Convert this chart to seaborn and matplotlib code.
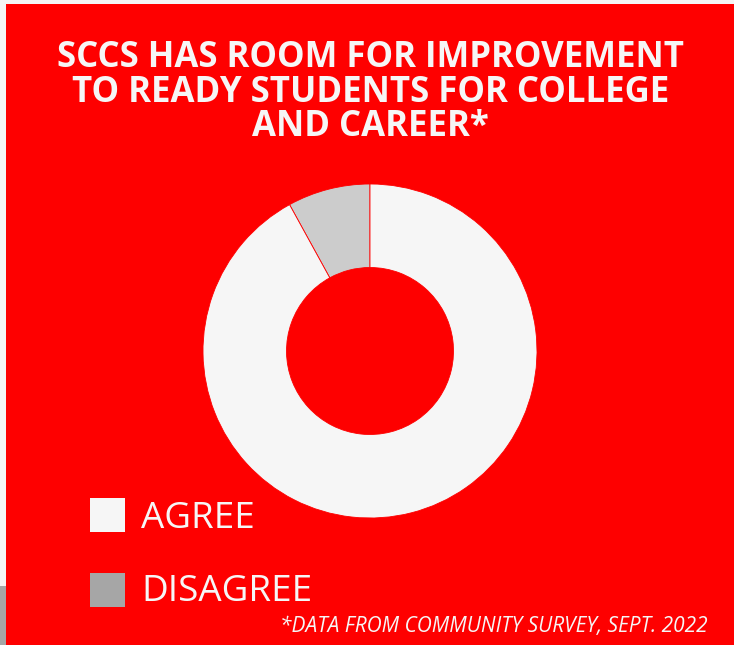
import matplotlib
matplotlib.use("Agg")
import matplotlib.pyplot as plt
from matplotlib.patches import Rectangle
import seaborn as sns

categories = ["AGREE", "DISAGREE"]
values = [92, 8]
wedge_colors = ["#f6f6f6", "#cccccc"]
legend_colors = ["#f6f6f6", "#a6a6a6"]
title_lines = ["SCCS HAS ROOM FOR IMPROVEMENT",
               "TO READY STUDENTS FOR COLLEGE",
               "AND CAREER*"]
footnote = "*DATA FROM COMMUNITY SURVEY, SEPT. 2022"

sns.set_theme(style="white")
plt.rcParams['font.family'] = ['Open Sans', 'DejaVu Sans']

W, H = 734, 645
RED = "#fe0000"
TXT = "#f6f6f6"
fig = plt.figure(figsize=(W / 100, H / 100), dpi=100, facecolor="#f5f5f5")

def fx(px):
    return px / W

def fy(py):
    return 1 - py / H

# background panels
fig.patches.append(Rectangle((fx(6), 0), 1 - fx(6), fy(4), transform=fig.transFigure,
                             facecolor=RED, edgecolor="none", zorder=-2))
fig.patches.append(Rectangle((0, 0), fx(6), fy(586), transform=fig.transFigure,
                             facecolor="#a6a6a6", edgecolor="none", zorder=-2))

# donut
cx, cy, r = 370, 351, 167
ax = fig.add_axes([fx(cx - r), fy(cy + r), 2 * r / W, 2 * r / H])
ax.set_facecolor("none")
# disagree first so it starts at 12 o'clock going counterclockwise
ax.pie(values[::-1], colors=wedge_colors[::-1], startangle=90, counterclock=True,
       radius=1, wedgeprops=dict(width=0.5, edgecolor=RED, linewidth=0.6))
ax.set_xlim(-1, 1)
ax.set_ylim(-1, 1)
ax.set_aspect("equal")
ax.axis("off")

# title
for line, by in zip(title_lines, [67, 101.5, 136]):
    fig.text(fx(370.5), fy(by), line, ha="center", va="baseline", color=TXT,
             fontsize=25, fontweight="bold")

# legend
for cat, col, top, base in zip(categories, legend_colors, [498, 573], [528, 601]):
    fig.patches.append(Rectangle((fx(90), fy(top + 34)), 35 / W, 34 / H,
                                 transform=fig.transFigure, facecolor=col,
                                 edgecolor="none", zorder=2))
    fig.text(fx(141), fy(base), cat, ha="left", va="baseline", color=TXT,
             fontsize=26.5, fontweight="normal")

# footnote
fig.text(fx(280), fy(632), footnote, ha="left", va="baseline", color=TXT,
         fontsize=15, fontstyle="italic")

fig.savefig("out.png", dpi=100, facecolor=fig.get_facecolor())
